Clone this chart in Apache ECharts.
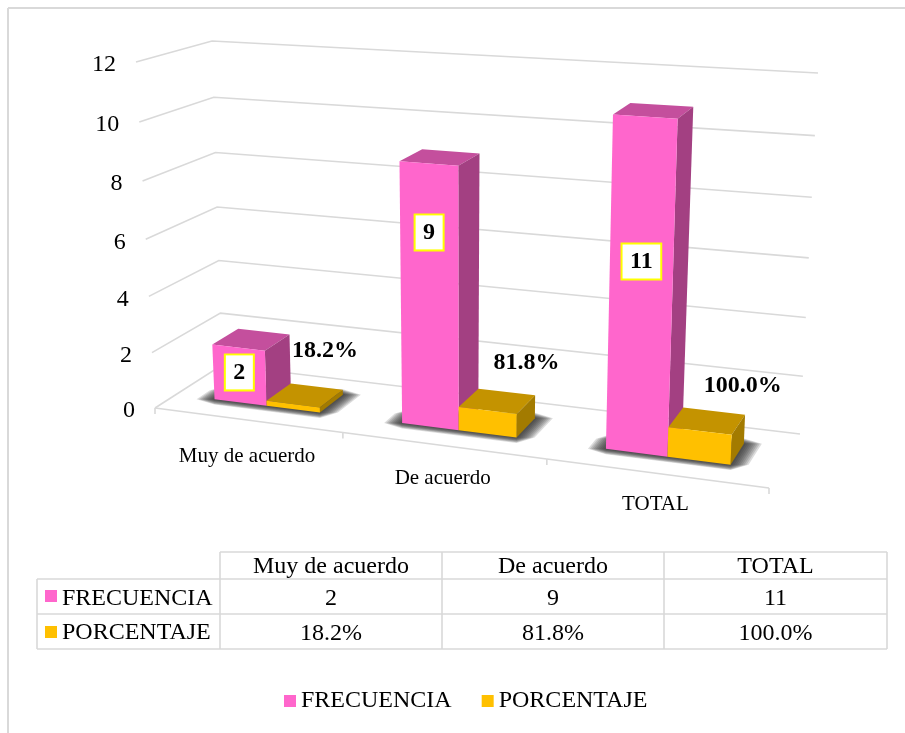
<!DOCTYPE html>
<html>
<head>
<meta charset="utf-8">
<title>Frecuencia y porcentaje</title>
<script src="https://cdn.jsdelivr.net/npm/echarts@6/dist/echarts.min.js"></script>
<style>
html, body { margin: 0; padding: 0; background: #fff; }
#main { width: 905px; height: 733px; }
</style>
</head>
<body>
<div id="main"></div>
<script>
var categories = ['Muy de acuerdo', 'De acuerdo', 'TOTAL'];
var frecuencia = [2, 9, 11];
var porcentaje = [0.182, 0.818, 1.0];
var yTicks = [0, 2, 4, 6, 8, 10, 12];
var nameFrecuencia = 'FRECUENCIA';
var namePorcentaje = 'PORCENTAJE';

var FONT = '"Liberation Serif", "Times New Roman", serif';
var LINE = '#d9d9d9';
var PINK = { front: '#ff66cc', top: '#c44f9d', side: '#a34082' };
var GOLD = { front: '#ffc000', top: '#c49300', side: '#a37b00' };

// corners of the box in the picture: floor front, floor back, roof front, roof back
var floorFL = [155, 408], floorFR = [769, 488], floorBL = [222, 365], floorBR = [800, 434];
var roofFL = [136, 62], roofFR = [786, 103], roofBL = [212, 41], roofBR = [818, 73];
var barWidth = 0.0953;     // in plot widths
var depthFront = 0.318, depthBack = 0.71;

// manual label placement from the original chart
var frecLabelLift = [0.55, 0.745, 0.58];
var pctLabelShift = [[32, -53], [39, -48], [43, -45]];
var catLabelDrop = [36, 32.5, 31.5];

function mix(a, b, t) {
    return [a[0] + (b[0] - a[0]) * t, a[1] + (b[1] - a[1]) * t];
}

// u, v go 0..1 along the plot, d 0..1 from front to back
function project(u, d, v) {
    var up = u / (1 + 0.134 * (1 - u));
    var vp = v / (1 + 0.05 * (1 - v));
    var bottom = mix(mix(floorFL, floorFR, up), mix(floorBL, floorBR, up), d);
    var top = mix(mix(roofFL, roofFR, up), mix(roofBL, roofBR, up), d);
    return mix(bottom, top, vp);
}

function toUnit(params, api, cat, val) {
    var p = api.coord([cat, val]);
    var g = params.coordSys;
    return {
        u: (p[0] - g.x) / g.width,
        v: (g.y + g.height - p[1]) / g.height,
        band: api.size([1, 0])[0] / g.width
    };
}

function face(points, color) {
    return { type: 'polygon', shape: { points: points }, style: { fill: color } };
}

function barFaces(u0, u1, v, colors) {
    return [
        face([project(u0, depthFront, v), project(u1, depthFront, v), project(u1, depthBack, v), project(u0, depthBack, v)], colors.top),
        face([project(u1, depthFront, 0), project(u1, depthBack, 0), project(u1, depthBack, v), project(u1, depthFront, v)], colors.side),
        face([project(u0, depthFront, 0), project(u1, depthFront, 0), project(u1, depthFront, v), project(u0, depthFront, v)], colors.front)
    ];
}

function plainText(text, x, y, size, weight, align) {
    return {
        type: 'text',
        style: {
            text: text, x: x, y: y, fill: '#000', fontSize: size, fontFamily: FONT,
            fontWeight: weight || 'normal', align: align || 'center', verticalAlign: 'middle'
        }
    };
}

function renderGrid(params, api) {
    var t = toUnit(params, api, 0, api.value(1));
    var a = project(0, 0, t.v), b = project(0, 1, t.v), c = project(1, 1, t.v);
    return {
        type: 'group',
        children: [
            { type: 'polyline', shape: { points: [a, b, c] }, style: { stroke: LINE, lineWidth: 1.6, fill: null } },
            plainText(String(api.value(1)), a[0] - 20, a[1] + 3, 24, 'normal', 'right')
        ]
    };
}

function renderFloor(params, api) {
    var i = api.value(0);
    var t = toUnit(params, api, i, 0);
    var left = t.u - t.band / 2, right = t.u + t.band / 2;
    var a = project(left, 0, 0), b = project(right, 0, 0), mid = project(t.u, 0, 0);
    var kids = [
        { type: 'line', shape: { x1: a[0], y1: a[1], x2: b[0], y2: b[1] }, style: { stroke: LINE, lineWidth: 1.6 } },
        { type: 'line', shape: { x1: b[0], y1: b[1], x2: b[0], y2: b[1] + 6 }, style: { stroke: LINE, lineWidth: 1.6 } },
        plainText(categories[i], mid[0], mid[1] + catLabelDrop[i], 21)
    ];
    if (i === 0) {
        kids.push({ type: 'line', shape: { x1: a[0], y1: a[1], x2: a[0], y2: a[1] + 6 }, style: { stroke: LINE, lineWidth: 1.6 } });
    }
    return { type: 'group', children: kids };
}

// soft floor shadow, stacked see-through layers growing outward
function renderShadow(params, api) {
    var t = toUnit(params, api, api.value(0), 0);
    var u0 = t.u - barWidth, u1 = t.u + barWidth;
    var fl = project(u0, depthFront, 0), fr = project(u1, depthFront, 0);
    var br = project(u1, depthBack, 0), bl = project(u0, depthFront + 0.2, 0);
    var kids = [];
    for (var e = 18; e >= 2; e -= 2) {
        var h = e * 0.3;
        kids.push({
            type: 'polygon',
            shape: {
                points: [
                    [fl[0] - e, fl[1]], [fl[0], fl[1] + h], [fr[0], fr[1] + h], [fr[0] + e, fr[1]],
                    [br[0] + e, br[1]], [br[0], br[1] - h], [bl[0], bl[1] - h], [bl[0] - e, bl[1]]
                ]
            },
            style: { fill: 'rgba(40,40,40,0.16)' }
        });
    }
    return { type: 'group', children: kids };
}

function renderFrec(params, api) {
    var i = api.value(0);
    var t = toUnit(params, api, i, api.value(1));
    var kids = barFaces(t.u - barWidth, t.u, t.v, PINK);
    var p = project(t.u - barWidth / 2, depthFront, t.v * frecLabelLift[i]);
    var lab = plainText(String(api.value(1)), p[0], p[1], 24, 'bold');
    lab.style.backgroundColor = '#fff';
    lab.style.borderColor = '#ffff00';
    lab.style.borderWidth = 2;
    lab.style.padding = [5, 7.5];
    kids.push(lab);
    return { type: 'group', children: kids };
}

function renderPct(params, api) {
    var i = api.value(0);
    var t = toUnit(params, api, i, api.value(1));
    var kids = barFaces(t.u, t.u + barWidth, t.v, GOLD);
    var p = project(t.u + barWidth / 2, depthFront, t.v);
    kids.push(plainText(pctText(api.value(1)), p[0] + pctLabelShift[i][0], p[1] + pctLabelShift[i][1], 24, 'bold'));
    return { type: 'group', children: kids };
}

function pctText(x) {
    return (x * 100).toFixed(1) + '%';
}

function pairs(list) {
    return list.map(function (item, i) {
        return [i, item];
    });
}

// data table under the plot
function tableGraphic() {
    var colX = [37, 220, 442, 664, 887];
    var rowY = [552, 579, 614, 649];
    var textY = [567, 599, 634];
    var out = [];
    function seg(x1, y1, x2, y2, w) {
        out.push({ type: 'line', shape: { x1: x1, y1: y1, x2: x2, y2: y2 }, style: { stroke: LINE, lineWidth: w || 1.6 } });
    }
    function txt(s, x, y, align) {
        out.push({ type: 'text', style: { text: s, x: x, y: y, fill: '#000', fontSize: 24, fontFamily: FONT, align: align || 'center', verticalAlign: 'middle' } });
    }
    // chart frame, only top and left show in the original
    seg(8, 8, 905, 8, 2);
    seg(8, 8, 8, 733, 2);
    seg(colX[1], rowY[0], colX[4], rowY[0]);
    seg(colX[0], rowY[1], colX[4], rowY[1]);
    seg(colX[0], rowY[2], colX[4], rowY[2]);
    seg(colX[0], rowY[3], colX[4], rowY[3]);
    seg(colX[0], rowY[1], colX[0], rowY[3]);
    seg(colX[1], rowY[0], colX[1], rowY[3]);
    seg(colX[2], rowY[0], colX[2], rowY[3]);
    seg(colX[3], rowY[0], colX[3], rowY[3]);
    seg(colX[4], rowY[0], colX[4], rowY[3]);
    out.push({ type: 'rect', shape: { x: 45, y: 590, width: 12, height: 12 }, style: { fill: PINK.front } });
    out.push({ type: 'rect', shape: { x: 45, y: 626, width: 12, height: 12 }, style: { fill: GOLD.front } });
    txt(nameFrecuencia, 62, textY[1], 'left');
    txt(namePorcentaje, 62, textY[2] - 1, 'left');
    categories.forEach(function (c, i) {
        var mid = (colX[i + 1] + colX[i + 2]) / 2;
        txt(c, mid, textY[0]);
        txt(String(frecuencia[i]), mid, textY[1]);
        txt(pctText(porcentaje[i]), mid, textY[2]);
    });
    return out;
}

var chart = echarts.init(document.getElementById('main'));
chart.setOption({
    animation: false,
    backgroundColor: '#fff',
    legend: {
        left: 279,
        top: 684,
        itemWidth: 12,
        itemHeight: 12,
        itemGap: 30,
        icon: 'rect',
        data: [nameFrecuencia, namePorcentaje],
        textStyle: { fontSize: 24, fontFamily: FONT, color: '#000' }
    },
    // hidden plain grid: gives the scales, project() bends them into the 3D box
    grid: { left: 155, top: 62, width: 614, height: 346 },
    xAxis: { type: 'category', data: categories, show: false },
    yAxis: { type: 'value', min: 0, max: 12, interval: 2, show: false },
    graphic: { elements: tableGraphic() },
    series: [
        { type: 'custom', name: 'grid', silent: true, renderItem: renderGrid, data: yTicks.map(function (t) { return [0, t]; }) },
        { type: 'custom', name: 'floor', silent: true, renderItem: renderFloor, data: pairs(frecuencia) },
        { type: 'custom', name: 'shadow', silent: true, renderItem: renderShadow, data: pairs(frecuencia) },
        { type: 'custom', name: nameFrecuencia, renderItem: renderFrec, itemStyle: { color: PINK.front }, data: pairs(frecuencia) },
        { type: 'custom', name: namePorcentaje, renderItem: renderPct, itemStyle: { color: GOLD.front }, data: pairs(porcentaje) }
    ]
});
</script>
</body>
</html>
